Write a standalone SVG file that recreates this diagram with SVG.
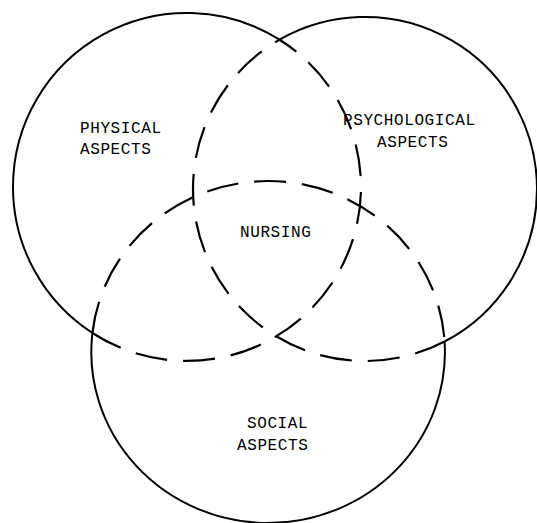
<svg xmlns="http://www.w3.org/2000/svg" width="537" height="523" viewBox="0 0 537 523">
<style>
.solid{fill:none;stroke:#000;stroke-width:2}
.dash{fill:none;stroke:#000;stroke-width:2.2;stroke-dasharray:32 16}
.lbl{font-family:"Liberation Mono","Courier New",monospace;font-size:16px;letter-spacing:0.6px;fill:#000}
</style>
<rect width="537" height="523" fill="#fff"/>
<g id="connectors">
<path class="dash" d="M 92.4 333 A 174 174 0 0 0 361 187 A 174 174 0 0 0 279.6 39.7"/>
<path class="dash" d="M 444.6 341.5 A 172 172 0 0 1 193 189 A 172 172 0 0 1 279.6 39.7"/>
<path class="dash" d="M 92.4 333 A 177 171 0 0 1 268 181 A 177 171 0 0 1 444.6 341.5"/>
</g>
<g id="physical">
<path class="solid" d="M 279.6 39.7 A 174 174 0 0 0 13 187 A 174 174 0 0 0 92.4 333"/>
<text class="lbl" x="80" y="133">PHYSICAL</text>
<text class="lbl" x="80" y="154">ASPECTS</text>
</g>
<g id="psychological">
<path class="solid" d="M 279.6 39.7 A 172 172 0 0 1 537 189 A 172 172 0 0 1 444.6 341.5"/>
<text class="lbl" x="343" y="125">PSYCHOLOGICAL</text>
<text class="lbl" x="377" y="147">ASPECTS</text>
</g>
<g id="social">
<path class="solid" d="M 444.6 341.5 A 177 171 0 0 1 268 523 A 177 171 0 0 1 92.4 333"/>
<text class="lbl" x="247" y="428">SOCIAL</text>
<text class="lbl" x="237" y="450">ASPECTS</text>
</g>
<g id="nursing">
<text class="lbl" x="240" y="237">NURSING</text>
</g>
</svg>
